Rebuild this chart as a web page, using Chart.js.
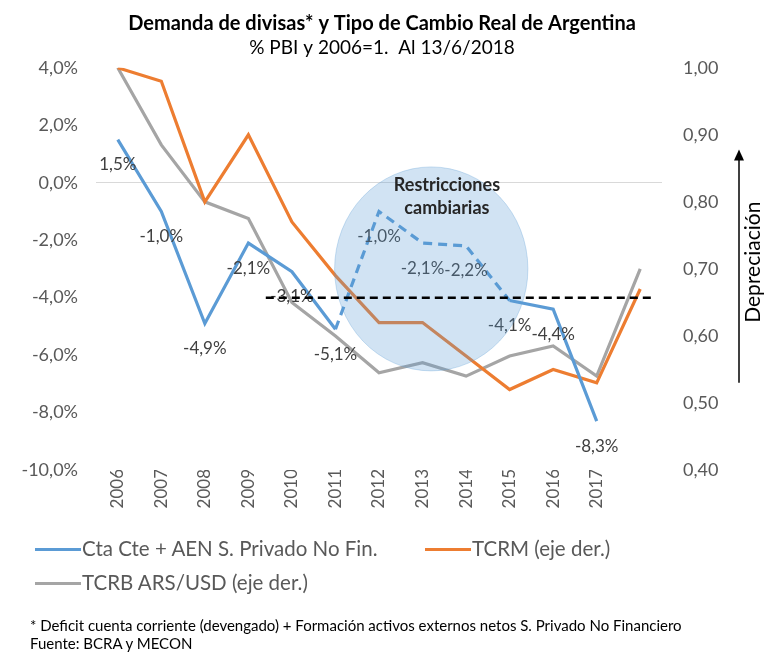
<!DOCTYPE html>
<html lang="es">
<head>
  <meta charset="UTF-8" />
  <title>Demanda de divisas y Tipo de Cambio Real de Argentina</title>
  <style>
    body { margin: 0; background: #fff; font-family: Lato, "Open Sans", sans-serif; }
    #marco { position: relative; width: 764px; height: 652px; }
    .ley { position: absolute; font-size: 20.5px; color: #595959; white-space: nowrap; line-height: 24px; }
    .ley i { display: inline-block; width: 46px; height: 3px; vertical-align: middle; margin-right: 1px; position: relative; top: -1px; }
    .nota { position: absolute; left: 30px; font-size: 15px; color: #000; white-space: nowrap; line-height: 18px; }
  </style>
  <script src="https://cdn.jsdelivr.net/npm/chart.js"></script>
</head>
<body>
  <div id="marco">
    <canvas id="grafico" width="764" height="652"></canvas>
    <div class="ley" style="left:35px; top:536px;"><i style="background:#5b9bd5"></i>Cta Cte + AEN S. Privado No Fin.</div>
    <div class="ley" style="left:425px; top:536px;"><i style="background:#ed7d31"></i>TCRM (eje der.)</div>
    <div class="ley" style="left:35px; top:570px;"><i style="background:#a5a5a5"></i>TCRB ARS/USD (eje der.)</div>
    <div class="nota" style="top:616px;">* Deficit cuenta corriente (devengado) + Formación activos externos netos S. Privado No Financiero</div>
    <div class="nota" style="top:634px;">Fuente: BCRA y MECON</div>
  </div>

  <script>
    // Años (el último punto es 2018 al 13/6, sin etiqueta)
    const anios = ["2006", "2007", "2008", "2009", "2010", "2011", "2012", "2013", "2014", "2015", "2016", "2017", "2018"];
    // Cta Cte + AEN S. Privado No Fin. (% PBI, eje izq.)
    const ctaCte = [1.5, -1.0, -4.9, -2.1, -3.1, -5.1, -1.0, -2.1, -2.2, -4.1, -4.4, -8.3, null];
    // tramo de restricciones cambiarias (línea punteada), índices desde/hasta
    const tramoCepo = [5, 9];
    // TCRM y TCRB (2006=1, eje der.)
    const tcrm = [1.00, 0.98, 0.80, 0.90, 0.77, 0.69, 0.62, 0.62, 0.57, 0.52, 0.55, 0.53, 0.67];
    const tcrb = [1.00, 0.885, 0.80, 0.775, 0.65, 0.60, 0.545, 0.56, 0.54, 0.57, 0.585, 0.54, 0.70];
    // línea de referencia punteada (eje izq.)
    const umbral = -4.0;
    const umbralDesde = 3.4, umbralHasta = 12.25;
    // círculo "Restricciones cambiarias": centro (índice, %), radios (categorías, %)
    const circulo = { x: 7.2, y: -3.0, rx: 2.22, ry: 3.55 };

    const azul = "#5b9bd5", naranja = "#ed7d31", gris = "#a5a5a5", textoEje = "#595959";
    const coma = (v, d) => v.toFixed(d).replace(".", ",");

    const ctaSolida = ctaCte.map((v, i) => (i > tramoCepo[0] && i < tramoCepo[1]) ? null : v);
    const ctaPunteada = ctaCte.map((v, i) => (i >= tramoCepo[0] && i <= tramoCepo[1]) ? v : null);

    Chart.defaults.font.family = "Lato, 'Open Sans', sans-serif";

    const extras = {
      id: "extras",
      afterDatasetsDraw(chart) {
        const c = chart.ctx, xs = chart.scales.x, yl = chart.scales.yIzq, yr = chart.scales.yDer;
        c.save();

        // etiquetas de datos
        c.font = "17px Lato";
        c.fillStyle = "#404040";
        c.textAlign = "center";
        c.textBaseline = "middle";
        ctaCte.forEach((v, i) => {
          if (v === null) return;
          c.fillText(coma(v, 1) + "%", xs.getPixelForValue(i), yl.getPixelForValue(v) + 25);
        });

        // círculo
        const cx = xs.getPixelForValue(circulo.x);
        const cy = yl.getPixelForValue(circulo.y);
        const rx = xs.getPixelForValue(circulo.x + circulo.rx) - cx;
        const ry = yl.getPixelForValue(circulo.y - circulo.ry) - cy;
        c.beginPath();
        c.ellipse(cx, cy, rx, ry, 0, 0, Math.PI * 2);
        c.fillStyle = "rgba(91,155,213,0.28)";
        c.fill();
        c.strokeStyle = "rgba(91,155,213,0.3)";
        c.lineWidth = 1;
        c.stroke();

        // línea punteada negra
        c.beginPath();
        c.setLineDash([8, 5]);
        c.lineWidth = 2.5;
        c.strokeStyle = "#000";
        const yu = yl.getPixelForValue(umbral);
        c.moveTo(xs.getPixelForValue(umbralDesde), yu);
        c.lineTo(xs.getPixelForValue(umbralHasta), yu);
        c.stroke();
        c.setLineDash([]);

        // texto del círculo
        c.font = "bold 18px Lato";
        c.fillStyle = "#262626";
        c.fillText("Restricciones", xs.getPixelForValue(7.56), yl.getPixelForValue(-0.1));
        c.fillText("cambiarias", xs.getPixelForValue(7.56), yl.getPixelForValue(-0.9));

        // flecha "Depreciación"
        const xa = yr.right - 25;
        const yb = yr.getPixelForValue(0.53), yt = yr.getPixelForValue(0.878);
        c.strokeStyle = "#000";
        c.lineWidth = 1.5;
        c.beginPath();
        c.moveTo(xa, yb);
        c.lineTo(xa, yt + 8);
        c.stroke();
        c.beginPath();
        c.moveTo(xa, yt);
        c.lineTo(xa - 5, yt + 11);
        c.lineTo(xa + 5, yt + 11);
        c.closePath();
        c.fillStyle = "#000";
        c.fill();

        c.translate(yr.right - 11, yr.getPixelForValue(0.71));
        c.rotate(-Math.PI / 2);
        c.font = "21px Lato";
        c.fillStyle = "#000";
        c.fillText("Depreciación", 0, 0);
        c.restore();
      }
    };

    new Chart(document.getElementById("grafico"), {
      type: "line",
      data: {
        labels: anios,
        datasets: [
          { label: "Cta Cte + AEN S. Privado No Fin.", data: ctaSolida, yAxisID: "yIzq",
            borderColor: azul, borderWidth: 3.2, pointRadius: 0, spanGaps: false },
          { label: "restricciones", data: ctaPunteada, yAxisID: "yIzq",
            borderColor: azul, borderWidth: 3.2, borderDash: [9, 6], pointRadius: 0, spanGaps: false },
          { label: "TCRM (eje der.)", data: tcrm, yAxisID: "yDer",
            borderColor: naranja, borderWidth: 3.2, pointRadius: 0 },
          { label: "TCRB ARS/USD (eje der.)", data: tcrb, yAxisID: "yDer",
            borderColor: gris, borderWidth: 3.2, pointRadius: 0 }
        ]
      },
      options: {
        responsive: false,
        animation: false,
        layout: { padding: { bottom: 120 } },
        plugins: {
          legend: { display: false },
          tooltip: { enabled: false },
          title: {
            display: true,
            text: "Demanda de divisas* y Tipo de Cambio Real de Argentina",
            color: "#000",
            font: { size: 20, weight: "bold" },
            padding: { top: 12, bottom: 0 }
          },
          subtitle: {
            display: true,
            text: "% PBI y 2006=1.  Al 13/6/2018",
            color: "#000",
            font: { size: 19 },
            padding: { bottom: 9 }
          }
        },
        scales: {
          x: {
            offset: true,
            grid: { display: false },
            border: { display: false },
            ticks: {
              color: textoEje,
              font: { size: 17 },
              autoSkip: false,
              minRotation: 90,
              maxRotation: 90,
              padding: -9,
              callback: (v, i) => i < 12 ? anios[i] : ""
            },
            afterFit: s => { s.height = 62; }
          },
          yIzq: {
            position: "left",
            min: -10,
            max: 4,
            ticks: { stepSize: 2, color: textoEje, font: { size: 18 }, padding: 18,
                     callback: v => coma(v, 1) + "%" },
            grid: { drawTicks: false, color: c => c.tick.value === 0 ? "#d9d9d9" : "rgba(0,0,0,0)" },
            border: { display: false },
            afterFit: s => { s.width = 96; }
          },
          yDer: {
            position: "right",
            min: 0.4,
            max: 1.0,
            ticks: { stepSize: 0.1, color: textoEje, font: { size: 18 }, padding: 21,
                     callback: v => coma(v, 2) },
            grid: { display: false, drawTicks: false },
            border: { display: false },
            afterFit: s => { s.width = 102; }
          }
        }
      },
      plugins: [extras]
    });
  </script>
</body>
</html>
